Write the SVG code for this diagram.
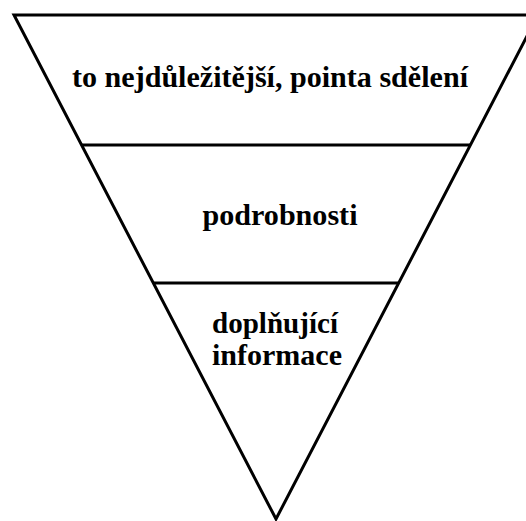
<svg xmlns="http://www.w3.org/2000/svg" width="526" height="521" viewBox="0 0 526 521">
<style>
.edge{stroke:#000;stroke-width:3;fill:none;stroke-linejoin:miter}
.lbl{font-family:'Liberation Serif','Times New Roman','DejaVu Serif',serif;font-weight:bold;font-size:29px;fill:#000;text-anchor:middle}
</style>
<rect width="526" height="521" fill="#fff"/>
<g id="connectors">
<polygon class="edge" points="14,15 538,15 276,519"/>
<line class="edge" x1="82" y1="145" x2="470" y2="145"/>
<line class="edge" x1="153" y1="283" x2="399" y2="283"/>
</g>
<g id="node-top"><text class="lbl" x="270" y="87" textLength="396" lengthAdjust="spacingAndGlyphs">to nejdůležitější, pointa sdělení</text></g>
<g id="node-mid"><text class="lbl" x="280" y="225" textLength="155" lengthAdjust="spacingAndGlyphs">podrobnosti</text></g>
<g id="node-bottom"><text class="lbl" x="275" y="333" textLength="126" lengthAdjust="spacingAndGlyphs">doplňující</text><text class="lbl" x="277" y="365" textLength="130" lengthAdjust="spacingAndGlyphs">informace</text></g>
</svg>
